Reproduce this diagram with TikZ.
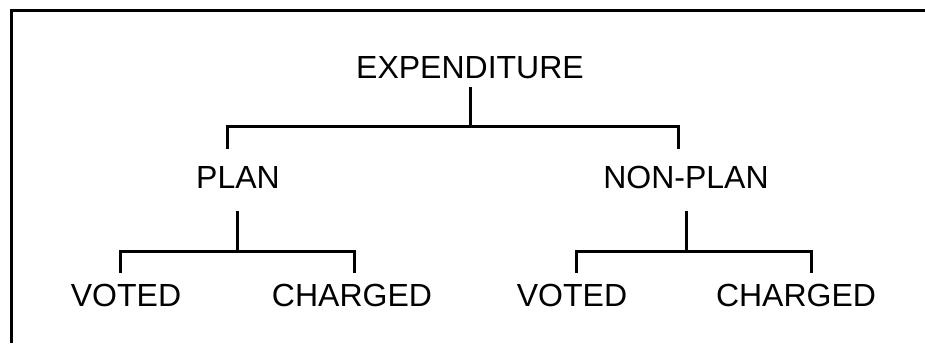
\documentclass[tikz,border=0pt]{standalone}
\usepackage{fontspec}
\setmainfont{Liberation Sans}
\begin{document}
\begin{tikzpicture}[x=1pt,y=-1pt,
  lbl/.style={inner sep=0pt,anchor=base,font=\fontsize{32}{38}\selectfont},
  conn/.style={line width=3pt,line join=miter},
  frame/.style={line width=3pt}]
\useasboundingbox (0,0) rectangle (925,343);
% frame (top and left edges only)
\coordinate (fbl) at (11,343);
\coordinate (ftl) at (11,10);
\coordinate (ftr) at (925,10);
\draw[frame] (fbl) -- (ftl) -- (ftr);
% labels
\node[lbl] (exp) at (470,78) {EXPENDITURE};
\node[lbl] (plan) at (238,188) {PLAN};
\node[lbl] (nonplan) at (686,188) {NON-PLAN};
\node[lbl] (v1) at (126,306) {VOTED};
\node[lbl] (c1) at (352,306) {CHARGED};
\node[lbl] (v2) at (572,306) {VOTED};
\node[lbl] (c2) at (796,306) {CHARGED};
% level 1 connector
\coordinate (e0) at (470,87);
\coordinate (e1) at (470,126);
\coordinate (bl) at (227,126);
\coordinate (br) at (678,126);
\coordinate (pl) at (227,149);
\coordinate (npl) at (678,149);
\draw[conn] (e0) -- (e1);
\draw[conn] (pl) -- (bl) -- (br) -- (npl);
% level 2 left
\coordinate (p0) at (237,211);
\coordinate (p1) at (237,251);
\coordinate (p1l) at (120,251);
\coordinate (p1r) at (354,251);
\coordinate (v1t) at (120,273);
\coordinate (c1t) at (354,273);
\draw[conn] (p0) -- (p1);
\draw[conn] (v1t) -- (p1l) -- (p1r) -- (c1t);
% level 2 right
\coordinate (n0) at (686,211);
\coordinate (n1) at (686,251);
\coordinate (n1l) at (576,251);
\coordinate (n1r) at (811,251);
\coordinate (v2t) at (576,273);
\coordinate (c2t) at (811,273);
\draw[conn] (n0) -- (n1);
\draw[conn] (v2t) -- (n1l) -- (n1r) -- (c2t);
\end{tikzpicture}
\end{document}
